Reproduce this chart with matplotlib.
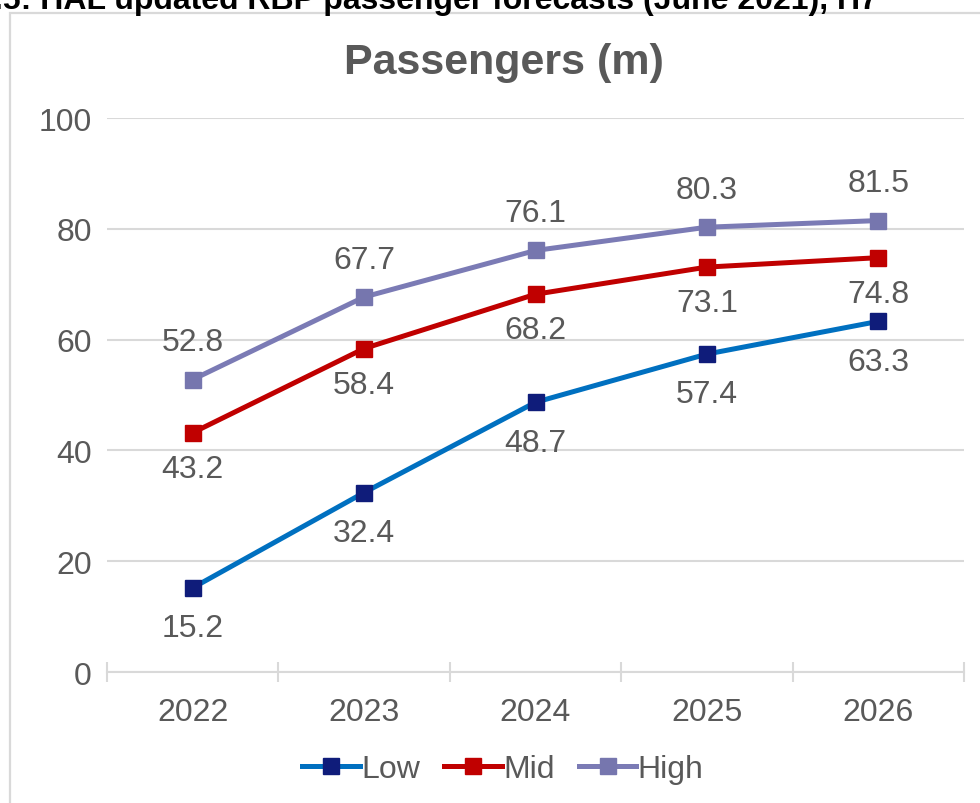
import matplotlib.pyplot as plt
import matplotlib.patches as mpatches
import numpy as np

plt.rcParams["font.family"] = ["Liberation Sans", "DejaVu Sans"]

YEARS = ["2022", "2023", "2024", "2025", "2026"]
LOW  = [15.2, 32.4, 48.7, 57.4, 63.3]
MID  = [43.2, 58.4, 68.2, 73.1, 74.8]
HIGH = [52.8, 67.7, 76.1, 80.3, 81.5]

TEXT = "#595959"
GRID = "#D9D9D9"
FS = 23

SERIES = [
    # name, values, line colour, marker colour, label offset (pt)
    ("Low",  LOW,  "#0070C0", "#0F1C7A", -29),
    ("Mid",  MID,  "#C00000", "#C00000", -26),
    ("High", HIGH, "#7B7BB5", "#7676AE", 27),
]

fig = plt.figure(figsize=(9.8, 8.04), dpi=100)
ax = fig.add_axes([0.1092, 0.1629, 0.8745, 0.689])

# chart frame (Excel style)
fig.patches.append(mpatches.Rectangle((10 / 980, -0.01), 1.0, 1 - 14 / 804 + 0.01,
                                      transform=fig.transFigure, fill=False,
                                      edgecolor=GRID, linewidth=1.6))

# clipped caption above the chart
fig.text(-0.006, 1 - 9 / 804, ".5: HAL updated RBP passenger forecasts (June 2021), H7",
         fontsize=23, fontweight="bold", color="black", ha="left", va="baseline")

x = np.arange(len(YEARS))
for name, vals, lc, mc, off in SERIES:
    ax.plot(x, vals, color=lc, linewidth=3.6, marker="s", markersize=12,
            markerfacecolor=mc, markeredgecolor=mc, label=name, zorder=3)
    for xi, v in zip(x, vals):
        ax.annotate(f"{v:.1f}", (xi, v), xytext=(0, off), textcoords="offset points",
                    ha="center", va="center", fontsize=FS, color=TEXT)

ax.set_xlim(-0.5, len(YEARS) - 0.5)
ax.set_ylim(0, 100)
ax.set_yticks(np.arange(0, 101, 20))
ax.set_xticks(x)
ax.set_xticklabels(YEARS)
ax.set_xticks(np.arange(-0.5, len(YEARS), 1.0), minor=True)

ax.tick_params(axis="y", length=0, pad=11, labelsize=FS, labelcolor=TEXT)
ax.tick_params(axis="x", which="major", length=0, pad=18, labelsize=FS, labelcolor=TEXT)
ax.tick_params(axis="x", which="minor", direction="inout", length=14, width=1.5, color=GRID)

ax.grid(axis="y", color=GRID, linewidth=1.5)
ax.set_axisbelow(True)
for s in ["top", "right", "left"]:
    ax.spines[s].set_visible(False)
ax.spines["bottom"].set_color(GRID)
ax.spines["bottom"].set_linewidth(1.5)

fig.text(504 / 980, 1 - 63 / 804, "Passengers (m)", fontsize=31, fontweight="bold",
         color=TEXT, ha="center", va="center")

leg = fig.legend(loc="center", bbox_to_anchor=(503 / 980, 1 - 770 / 804), ncol=3,
                 frameon=False, fontsize=FS, handlelength=1.8, columnspacing=0.75,
                 handletextpad=0.05, borderaxespad=0)
for t in leg.get_texts():
    t.set_color(TEXT)

plt.savefig("out.png", dpi=100)
